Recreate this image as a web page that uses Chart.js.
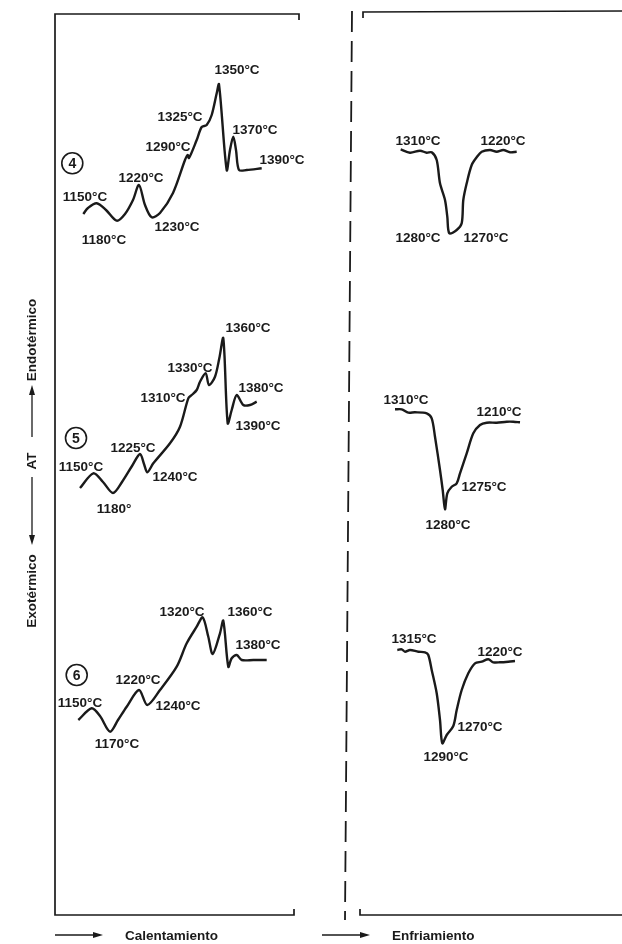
<!DOCTYPE html>
<html lang="es">
<head>
<meta charset="utf-8">
<title>ATD – Calentamiento y Enfriamiento</title>
<script src="https://cdn.jsdelivr.net/npm/chart.js@4/dist/chart.umd.min.js"></script>
<style>
  html, body { margin: 0; padding: 0; background: #ffffff; }
  #wrap { width: 622px; height: 944px; }
</style>
</head>
<body>
<div id="wrap"><canvas id="c" width="622" height="944"></canvas></div>
<script>
// Thermal-analysis traces (time along x, ΔT along y, curves stacked by sample).
// Heating curves, samples 4, 5, 6
const heat4X = [8.33, 8.8, 9.67, 10.6, 11.67, 12.5, 13.3, 13.9, 14.5, 15.17, 16.0, 17.3, 18.5, 18.77, 18.9, 19.67, 20.17, 20.67, 21.17, 21.67, 21.9, 22.67, 23.0, 23.33, 23.6, 23.9, 24.67, 26.17];
const heat4Y = [73.0, 73.6, 74.07, 73.4, 72.33, 73.0, 74.4, 75.9, 73.9, 72.67, 73.1, 75.1, 78.4, 78.9, 78.6, 80.4, 81.7, 81.9, 82.9, 85.07, 85.97, 77.4, 79.4, 80.73, 79.4, 77.4, 77.4, 77.57];

const heat5X = [8.0, 9.33, 10.3, 11.3, 12.2, 13.2, 14.0, 14.4, 14.73, 15.33, 17.0, 18.0, 18.83, 19.17, 19.67, 20.0, 20.57, 20.9, 21.5, 21.93, 22.33, 22.77, 23.17, 23.67, 24.33, 25.0, 25.67];
const heat5Y = [45.6, 47.07, 46.2, 45.1, 46.2, 47.8, 49.0, 48.0, 47.17, 48.07, 50.07, 51.73, 54.57, 54.9, 55.4, 56.23, 57.07, 55.9, 56.73, 58.57, 60.57, 52.07, 53.4, 54.9, 53.9, 53.9, 54.23];

const heat6X = [7.83, 9.17, 10.0, 11.0, 11.8, 12.67, 13.9, 14.73, 16.0, 17.67, 18.67, 19.67, 20.27, 20.83, 21.27, 22.0, 22.33, 22.83, 23.17, 23.67, 24.17, 25.33, 26.67];
const heat6Y = [22.4, 23.57, 22.8, 21.23, 22.4, 23.73, 25.4, 23.9, 25.4, 27.73, 30.07, 31.73, 32.67, 30.73, 29.0, 31.07, 32.33, 27.73, 28.57, 28.9, 28.4, 28.4, 28.4];

// Cooling curves, samples 4, 5, 6
const cool4X = [40.07, 41.0, 42.0, 42.67, 43.17, 43.67, 44.0, 44.5, 44.73, 44.93, 45.67, 46.17, 46.33, 46.67, 47.17, 47.67, 48.17, 49.0, 49.67, 50.33, 51.0, 51.67];
const cool4Y = [79.47, 79.13, 79.33, 79.13, 79.17, 78.4, 76.07, 74.4, 72.73, 71.07, 71.4, 72.07, 74.4, 76.07, 77.9, 78.67, 79.23, 79.4, 79.23, 79.4, 79.17, 79.23];

const cool5X = [39.5, 40.17, 40.83, 41.5, 42.67, 43.17, 43.5, 44.0, 44.27, 44.5, 44.73, 45.17, 45.67, 46.0, 46.67, 47.33, 48.0, 48.67, 49.67, 50.67, 51.33, 52.0];
const cool5Y = [53.47, 53.47, 53.13, 53.17, 53.07, 52.57, 50.73, 47.4, 45.4, 43.47, 45.07, 45.73, 46.07, 47.07, 49.07, 51.07, 51.9, 52.13, 52.13, 52.23, 52.23, 52.17];

const cool6X = [39.73, 40.17, 40.5, 41.0, 41.83, 42.5, 42.83, 43.17, 43.67, 44.0, 44.23, 44.67, 45.33, 45.67, 46.17, 46.83, 47.5, 48.17, 48.83, 49.33, 50.0, 50.83, 51.5];
const cool6Y = [29.4, 29.47, 29.23, 29.4, 29.23, 29.17, 28.9, 27.4, 25.07, 22.4, 20.07, 20.9, 21.8, 23.4, 25.4, 27.07, 28.07, 28.23, 28.47, 28.17, 28.17, 28.23, 28.3];

// Temperature annotations [text, x, y]
const heat4Labels = [['1150°C', 8.5, 74.7], ['1180°C', 10.4, 70.4], ['1220°C', 14.1, 76.6], ['1230°C', 17.7, 71.7], ['1290°C', 16.8, 79.7], ['1325°C', 18.0, 82.7], ['1350°C', 23.7, 87.4], ['1370°C', 25.5, 81.4], ['1390°C', 28.2, 78.4]];
const heat5Labels = [['1150°C', 8.1, 47.7], ['1180°', 11.4, 43.5], ['1225°C', 13.3, 49.6], ['1240°C', 17.5, 46.7], ['1310°C', 16.3, 54.6], ['1330°C', 19.0, 57.6], ['1360°C', 24.8, 61.6], ['1380°C', 26.1, 55.6], ['1390°C', 25.8, 51.8]];
const heat6Labels = [['1150°C', 8.0, 24.1], ['1170°C', 11.7, 20.0], ['1220°C', 13.8, 26.4], ['1240°C', 17.8, 23.8], ['1320°C', 18.2, 33.2], ['1360°C', 25.0, 33.2], ['1380°C', 25.8, 29.9]];
const cool4Labels = [['1310°C', 41.8, 80.3], ['1220°C', 50.3, 80.3], ['1280°C', 41.8, 70.6], ['1270°C', 48.6, 70.6]];
const cool5Labels = [['1310°C', 40.6, 54.4], ['1210°C', 49.9, 53.2], ['1275°C', 48.4, 45.7], ['1280°C', 44.8, 41.9]];
const cool6Labels = [['1315°C', 41.4, 30.5], ['1220°C', 50.0, 29.2], ['1270°C', 48.0, 21.7], ['1290°C', 44.6, 18.7]];

// Sample numbers and the anchor of their circled marker
const sampleNames = ['4', '5', '6'];
const sampleMarkX = [7.23, 7.6, 7.67];
const sampleMarkY = [78.07, 50.6, 26.9];

const INK = '#1a1a1a';
const LABEL_FONT = 'bold 13.5px "Liberation Sans", Arial, sans-serif';

function series(xs, ys) {
  return xs.map((x, i) => ({ x: x, y: ys[i] }));
}
function curve(xs, ys) {
  return {
    data: series(xs, ys),
    borderColor: INK,
    borderWidth: 2.4,
    pointRadius: 0,
    tension: 0.3,
    fill: false
  };
}

const allLabels = [heat4Labels, heat5Labels, heat6Labels, cool4Labels, cool5Labels, cool6Labels];

// Frame, separators, annotations and axis captions
const figureDecor = {
  id: 'figureDecor',
  afterDatasetsDraw(chart) {
    const ctx = chart.ctx;
    const sx = v => chart.scales.x.getPixelForValue(v);
    const sy = v => chart.scales.y.getPixelForValue(v);
    ctx.save();
    ctx.strokeStyle = INK;
    ctx.fillStyle = INK;
    ctx.lineCap = 'butt';
    ctx.lineJoin = 'miter';

    // heating panel bracket
    ctx.lineWidth = 1.7;
    ctx.beginPath();
    ctx.moveTo(sx(29.9), sy(92.4));
    ctx.lineTo(sx(29.9), sy(93.0));
    ctx.lineTo(sx(5.5), sy(93.0));
    ctx.lineTo(sx(5.5), sy(2.9));
    ctx.lineTo(sx(29.4), sy(2.9));
    ctx.lineTo(sx(29.4), sy(3.5));
    ctx.stroke();

    // cooling panel bracket
    ctx.beginPath();
    ctx.moveTo(sx(36.3), sy(92.6));
    ctx.lineTo(sx(36.3), sy(93.2));
    ctx.lineTo(sx(62.2), sy(93.3));
    ctx.stroke();
    ctx.beginPath();
    ctx.moveTo(sx(36.0), sy(3.5));
    ctx.lineTo(sx(36.0), sy(2.9));
    ctx.lineTo(sx(62.2), sy(2.9));
    ctx.stroke();

    // dashed separator
    ctx.setLineDash([21, 9]);
    ctx.lineWidth = 1.8;
    ctx.beginPath();
    ctx.moveTo(sx(35.2), sy(93.3));
    ctx.lineTo(sx(34.5), sy(2.4));
    ctx.stroke();
    ctx.setLineDash([]);

    // temperature annotations
    ctx.font = LABEL_FONT;
    ctx.textAlign = 'center';
    ctx.textBaseline = 'middle';
    allLabels.forEach(group => group.forEach(([t, x, y]) => {
      ctx.fillText(t, sx(x), sy(y));
    }));

    // circled sample numbers
    ctx.lineWidth = 1.6;
    sampleNames.forEach((n, i) => {
      const cx = sx(sampleMarkX[i]), cy = sy(sampleMarkY[i]);
      ctx.beginPath();
      ctx.arc(cx, cy, 10.5, 0, Math.PI * 2);
      ctx.stroke();
      ctx.font = 'bold 14px "Liberation Sans", Arial, sans-serif';
      ctx.fillText(n, cx, cy + 1);
    });

    // arrows and captions under the panels
    function arrowRight(x0, x1, y) {
      const px0 = sx(x0), px1 = sx(x1), py = sy(y);
      ctx.lineWidth = 1.3;
      ctx.beginPath();
      ctx.moveTo(px0, py);
      ctx.lineTo(px1 - 8, py);
      ctx.stroke();
      ctx.beginPath();
      ctx.moveTo(px1, py);
      ctx.lineTo(px1 - 10, py - 3);
      ctx.lineTo(px1 - 10, py + 3);
      ctx.closePath();
      ctx.fill();
    }
    arrowRight(5.5, 10.3, 0.9);
    arrowRight(32.2, 37.0, 0.9);
    ctx.font = LABEL_FONT;
    ctx.textAlign = 'left';
    ctx.fillText('Calentamiento', sx(12.5), sy(0.75));
    ctx.fillText('Enfriamiento', sx(39.2), sy(0.75));

    // vertical ΔT caption
    ctx.save();
    ctx.translate(sx(3.2), sy(48.1));
    ctx.rotate(-Math.PI / 2);
    ctx.textAlign = 'center';
    ctx.font = LABEL_FONT;
    ctx.fillText('Endotérmico', 123, 0);
    ctx.fillText('AT', 2, 0);
    ctx.fillText('Exotérmico', -128, 0);
    ctx.lineWidth = 1.3;
    // toward Endotérmico
    ctx.beginPath(); ctx.moveTo(26, 0); ctx.lineTo(70, 0); ctx.stroke();
    ctx.beginPath(); ctx.moveTo(78, 0); ctx.lineTo(68, -3); ctx.lineTo(68, 3); ctx.closePath(); ctx.fill();
    // toward Exotérmico
    ctx.beginPath(); ctx.moveTo(-14, 0); ctx.lineTo(-74, 0); ctx.stroke();
    ctx.beginPath(); ctx.moveTo(-82, 0); ctx.lineTo(-72, -3); ctx.lineTo(-72, 3); ctx.closePath(); ctx.fill();
    ctx.restore();

    ctx.restore();
  }
};

new Chart(document.getElementById('c'), {
  type: 'line',
  data: {
    datasets: [
      curve(heat4X, heat4Y),
      curve(heat5X, heat5Y),
      curve(heat6X, heat6Y),
      curve(cool4X, cool4Y),
      curve(cool5X, cool5Y),
      curve(cool6X, cool6Y)
    ]
  },
  options: {
    responsive: false,
    animation: false,
    layout: { padding: 0 },
    plugins: { legend: { display: false }, tooltip: { enabled: false } },
    scales: {
      x: { type: 'linear', min: 0, max: 62.2, display: false },
      y: { type: 'linear', min: 0, max: 94.4, display: false }
    }
  },
  plugins: [figureDecor]
});
</script>
</body>
</html>
